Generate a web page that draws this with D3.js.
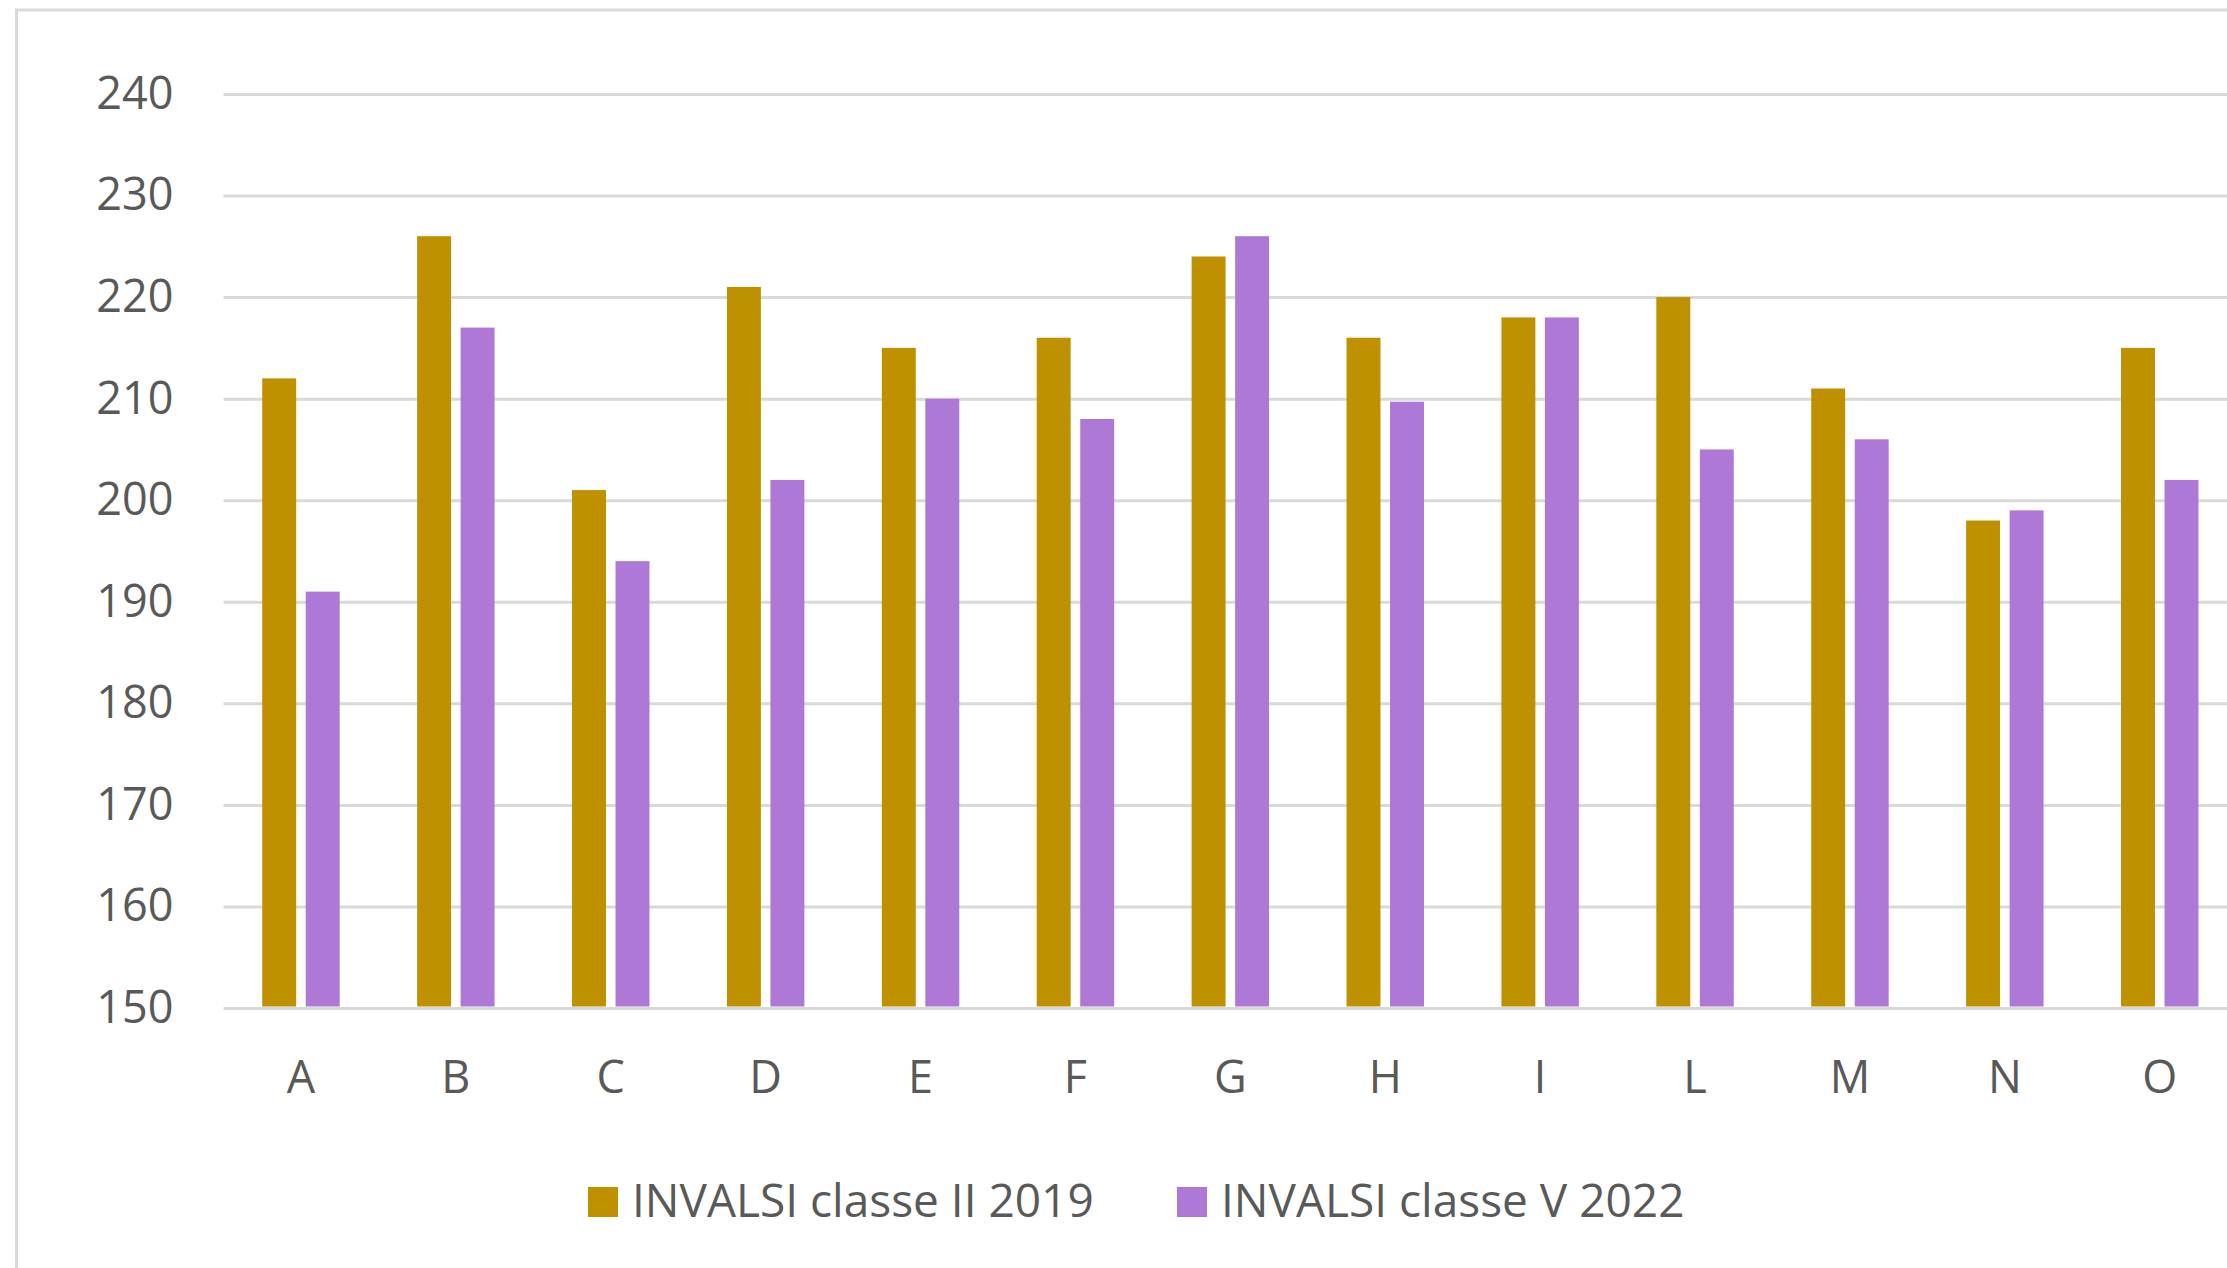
<!DOCTYPE html>
<html>
<head>
<meta charset="utf-8">
<script src="https://cdn.jsdelivr.net/npm/d3@7"></script>
<style>
  html, body { margin: 0; padding: 0; background: #fff; }
  svg text { font-family: "Open Sans", "Noto Sans", sans-serif; fill: #595959; }
</style>
</head>
<body>
<div id="chart"></div>
<script>
// dati
const categories = ["A", "B", "C", "D", "E", "F", "G", "H", "I", "L", "M", "N", "O"];
const seriesNames = ["INVALSI classe II 2019", "INVALSI classe V 2022"];
const classe2_2019 = [212, 226, 201, 221, 215, 216, 224, 216, 218, 220, 211, 198, 215];
const classe5_2022 = [191, 217, 194, 202, 210, 208, 226, 209.7, 218, 205, 206, 199, 202];
const yTicks = [150, 160, 170, 180, 190, 200, 210, 220, 230, 240];
const colors = ["#BF9000", "#AD78D6"];

const W = 2227, H = 1268;
const margin = { top: 94, left: 223.5, bottom: 260 };
const step = 154.9;
const plotW = step * categories.length;
const plotH = H - margin.top - margin.bottom; // 150 -> 1008

const svg = d3.select("#chart")
    .append("svg")
    .attr("width", W)
    .attr("height", H);

// cornice del grafico (solo bordo sinistro e superiore visibili)
svg.append("rect")
    .attr("x", 16.5)
    .attr("y", 10)
    .attr("width", W + 50)
    .attr("height", H + 50)
    .attr("fill", "#fff")
    .attr("stroke", "#d9d9d9")
    .attr("stroke-width", 3);

const g = svg.append("g")
    .attr("transform", `translate(${margin.left},${margin.top})`);

const x0 = d3.scaleBand()
    .domain(categories)
    .range([0, plotW])
    .paddingInner(0.5)
    .paddingOuter(0.25);

const x1 = d3.scaleBand()
    .domain(seriesNames)
    .range([0, x0.bandwidth()])
    .paddingInner(0.22);

const y = d3.scaleLinear()
    .domain([150, 240])
    .range([plotH, 0]);

// griglia + etichette asse Y
const yAxis = g.append("g")
    .call(d3.axisLeft(y).tickValues(yTicks).tickSize(-plotW).tickPadding(50));
yAxis.select(".domain").remove();
yAxis.selectAll(".tick line")
    .attr("stroke", "#d9d9d9")
    .attr("stroke-width", 3);
yAxis.selectAll(".tick text")
    .attr("font-size", 45)
    .attr("dy", "0.32em")
    .style("font-family", "'Open Sans', sans-serif")
    .attr("fill", "#595959");

// asse X (solo etichette)
const xAxis = g.append("g")
    .attr("transform", `translate(0,${plotH})`)
    .call(d3.axisBottom(x0).tickSize(0).tickPadding(0));
xAxis.select(".domain").remove();
xAxis.selectAll(".tick text")
    .attr("font-size", 45)
    .attr("y", 85)
    .attr("dy", 0)
    .style("font-family", "'Open Sans', sans-serif")
    .attr("fill", "#595959");

// barre
const rows = categories.map((c, i) => ({
    cat: c,
    values: [
        { name: seriesNames[0], v: classe2_2019[i], color: colors[0] },
        { name: seriesNames[1], v: classe5_2022[i], color: colors[1] }
    ]
}));

g.selectAll(".group")
    .data(rows)
    .enter().append("g")
    .attr("class", "group")
    .attr("transform", d => `translate(${x0(d.cat)},0)`)
    .selectAll("rect")
    .data(d => d.values)
    .enter().append("rect")
    .attr("x", d => x1(d.name))
    .attr("y", d => y(d.v))
    .attr("width", x1.bandwidth())
    .attr("height", d => plotH - y(d.v) - 1.5)
    .attr("fill", d => d.color);

// legenda
const legendX = [588, 1177];
const legend = svg.selectAll(".legend")
    .data(seriesNames)
    .enter().append("g")
    .attr("class", "legend")
    .attr("transform", (d, i) => `translate(${legendX[i]},1187)`);

legend.append("rect")
    .attr("width", 30)
    .attr("height", 30)
    .attr("fill", (d, i) => colors[i]);

legend.append("text")
    .attr("x", 44)
    .attr("y", 30)
    .attr("font-size", 46)
    .text(d => d);
</script>
</body>
</html>
